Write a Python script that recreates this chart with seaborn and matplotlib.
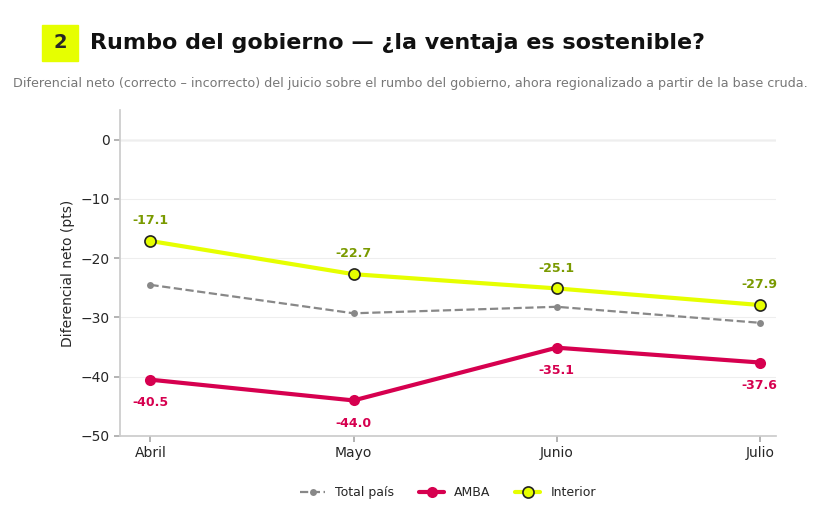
import pandas as pd
import matplotlib.pyplot as plt
import seaborn as sns

# datos
meses = ["Abril", "Mayo", "Junio", "Julio"]
total_pais = [-24.5, -29.3, -28.2, -30.9]
amba = [-40.5, -44.0, -35.1, -37.6]
interior = [-17.1, -22.7, -25.1, -27.9]

df = pd.DataFrame({"mes": list(range(4)) * 3,
                   "valor": total_pais + amba + interior,
                   "serie": ["Total país"] * 4 + ["AMBA"] * 4 + ["Interior"] * 4})

sns.set_theme(style="white")
plt.rcParams['font.family'] = ['DejaVu Sans']

fig = plt.figure(figsize=(8.26, 5.18), dpi=100)
ax = fig.add_axes([120 / 826, 1 - 436 / 518, 656 / 826, 326 / 518])

sns.lineplot(data=df[df.serie == "Total país"], x="mes", y="valor", ax=ax,
             color="#888888", lw=1.6, ls="--", marker="o", markersize=5,
             markeredgewidth=0, label="Total país")
sns.lineplot(data=df[df.serie == "AMBA"], x="mes", y="valor", ax=ax,
             color="#d6004f", lw=3, marker="o", markersize=8,
             markeredgewidth=0, label="AMBA")
sns.lineplot(data=df[df.serie == "Interior"], x="mes", y="valor", ax=ax,
             color="#e6ff00", lw=3, marker="o", markersize=8,
             markeredgecolor="#222222", markeredgewidth=1.2,
             markerfacecolor="#e6ff00", label="Interior")

for i, v in enumerate(interior):
    ax.annotate(f"{v:.1f}", (i, v), xytext=(0, 10), textcoords="offset points",
                ha="center", va="bottom", color="#7a9a00", fontsize=9, fontweight="bold")
for i, v in enumerate(amba):
    ax.annotate(f"{v:.1f}", (i, v), xytext=(0, -12), textcoords="offset points",
                ha="center", va="top", color="#d6004f", fontsize=9, fontweight="bold")

ax.set_xlim(-0.15, 3.08)
ax.set_ylim(-50, 5)
ax.set_yticks([0, -10, -20, -30, -40, -50])
ax.set_yticklabels(["0", "−10", "−20", "−30", "−40", "−50"])
ax.set_xticks(range(4))
ax.set_xticklabels(meses)
ax.set_xlabel("")
ax.set_ylabel("Diferencial neto (pts)", fontsize=10)
ax.tick_params(axis="both", labelsize=10, length=4, color="#aaaaaa", left=True, bottom=True)
ax.yaxis.grid(True, color="#eeeeee", lw=0.8)
ax.axhline(0, color="#cccccc", lw=1, zorder=0)
for s in ["top", "right"]:
    ax.spines[s].set_visible(False)
for s in ["left", "bottom"]:
    ax.spines[s].set_color("#cccccc")

ax.legend(loc="upper center", bbox_to_anchor=(0.5, -0.12), ncol=3, frameon=False, fontsize=9)

fig.patches.append(plt.Rectangle((42 / 826, 1 - 61 / 518), 36 / 826, 36 / 518,
                                 transform=fig.transFigure, color="#e6ff00"))
fig.text(60 / 826, 1 - 43 / 518, "2", ha="center", va="center", fontsize=14, fontweight="bold")
fig.text(90 / 826, 1 - 43 / 518, "Rumbo del gobierno — ¿la ventaja es sostenible?",
         ha="left", va="center", fontsize=16, fontweight="bold", color="#111111")
fig.text(410 / 826, 1 - 84 / 518,
         "Diferencial neto (correcto – incorrecto) del juicio sobre el rumbo del gobierno, ahora regionalizado a partir de la base cruda.",
         ha="center", va="center", fontsize=9.2, color="#777777")

fig.savefig("out.png", dpi=100)
